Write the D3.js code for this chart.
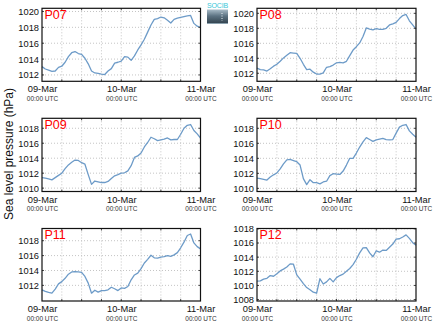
<!DOCTYPE html>
<html>
<head>
<meta charset="utf-8">
<script src="https://cdn.jsdelivr.net/npm/d3@7"></script>
<style>
  html, body { margin: 0; padding: 0; background: #fff; }
  svg { display: block; font-family: "Liberation Sans", Arial, sans-serif; }
</style>
</head>
<body>
<svg id="chart" width="434" height="327"></svg>
<script>
// Hour offsets from 09-Mar 00:00 UTC (hourly samples)
const hours = [0,1,2,3,4,5,6,7,8,9,10,11,12,13,14,15,16,17,18,19,20,21,22,23,24,
               25,26,27,28,29,30,31,32,33,34,35,36,37,38,39,40,41,42,43,44,45,46,47,48];

// Station names
const stations = ["P07", "P08", "P09", "P10", "P11", "P12"];

// Sea level pressure (hPa) per station
const p07 = [1013.05,1012.75,1012.6,1012.45,1012.5,1012.95,1013.1,1013.6,1014.3,1014.8,1014.95,1014.7,1014.6,
             1014.1,1013.4,1012.5,1012.25,1012.2,1012.1,1012.05,1012.5,1012.8,1013.5,1013.6,1013.75,
             1014.3,1014.25,1013.85,1014.4,1015.15,1015.8,1016.5,1017.4,1018.3,1019.0,1019.1,1019.3,
             1019.2,1018.9,1018.55,1019.0,1019.15,1019.25,1019.35,1019.45,1019.5,1018.5,1018.15,1018.0];
const p08 = [1012.7,1012.5,1012.45,1012.3,1012.6,1012.95,1013.2,1013.6,1014.05,1014.4,1014.75,1014.7,1014.65,
             1014.0,1013.2,1012.5,1012.55,1012.15,1011.9,1011.9,1012.05,1012.8,1012.9,1013.1,1013.4,
             1013.45,1013.4,1013.6,1014.35,1015.1,1015.55,1016.05,1016.9,1018.05,1017.9,1017.8,1017.95,
             1017.85,1017.85,1018.0,1018.45,1018.6,1018.8,1019.3,1019.7,1019.85,1019.0,1018.45,1017.9];
const p09 = [1011.4,1011.35,1011.25,1011.1,1011.4,1011.7,1012.0,1012.6,1013.1,1013.45,1013.75,1013.7,1013.4,
             1013.2,1011.8,1010.5,1010.95,1010.85,1010.75,1010.75,1010.9,1011.3,1011.65,1011.8,1012.0,
             1012.05,1012.3,1013.0,1014.1,1014.3,1014.7,1015.5,1016.1,1016.8,1016.6,1016.35,1016.45,
             1016.55,1016.7,1016.45,1016.5,1016.5,1017.2,1018.0,1018.4,1018.5,1017.7,1017.25,1016.7];
const p10 = [1011.35,1011.3,1011.2,1011.1,1011.5,1011.8,1012.05,1012.6,1013.25,1013.8,1013.85,1013.7,1013.55,
             1013.1,1011.3,1010.5,1011.15,1010.75,1010.75,1010.6,1010.85,1010.95,1011.7,1011.95,1011.9,
             1011.85,1012.3,1013.1,1014.0,1014.0,1014.7,1015.5,1016.2,1016.75,1016.5,1016.25,1016.45,
             1016.55,1016.65,1016.5,1016.45,1016.5,1017.35,1018.15,1018.4,1018.5,1017.65,1017.2,1016.8];
const p11 = [1011.4,1011.2,1011.05,1010.95,1011.5,1012.2,1012.5,1012.95,1013.5,1013.8,1013.85,1013.8,1013.75,
             1013.2,1012.3,1010.95,1011.35,1011.1,1011.3,1011.3,1011.4,1011.75,1011.55,1011.3,1011.65,
             1011.6,1011.85,1012.75,1013.4,1013.65,1014.25,1015.0,1015.5,1016.05,1015.7,1015.65,1015.8,
             1015.85,1016.0,1015.9,1016.1,1016.4,1017.05,1017.8,1018.7,1018.9,1017.7,1017.2,1016.9];
const p12 = [1010.6,1010.65,1010.9,1011.0,1011.4,1011.3,1011.65,1012.05,1012.3,1012.6,1013.05,1013.0,1011.5,
             1010.9,1010.25,1009.7,1009.4,1009.05,1008.9,1010.95,1010.2,1010.5,1011.0,1010.5,1011.1,
             1011.4,1011.6,1012.0,1012.4,1012.95,1013.7,1014.6,1015.3,1015.35,1014.6,1014.05,1014.9,
             1014.7,1015.0,1014.95,1015.4,1015.85,1016.55,1016.6,1016.85,1017.15,1016.65,1016.05,1015.7];

// Y tick labels per station
const yTicks07 = [1012, 1014, 1016, 1018, 1020];
const yTicks08 = [1012, 1014, 1016, 1018, 1020];
const yTicks09 = [1010, 1012, 1014, 1016, 1018];
const yTicks10 = [1010, 1012, 1014, 1016, 1018];
const yTicks11 = [1012, 1014, 1016, 1018];
const yTicks12 = [1008, 1010, 1012, 1014, 1016, 1018];

// Axis ranges per station (hPa)
const yDomains = [[1011.2, 1020.4], [1010.93, 1020.67], [1009.55, 1019.33],
                  [1009.58, 1019.33], [1009.9, 1019.64], [1007.8, 1018.05]];

const seriesList = [p07, p08, p09, p10, p11, p12];
const tickList = [yTicks07, yTicks08, yTicks09, yTicks10, yTicks11, yTicks12];

// Layout of the 3x2 grid of panels
const colX = [[42, 200.5], [257, 416]];
const rowY = [[8.3, 81.3], [118.3, 191.5], [228.5, 301]];

const t0 = Date.UTC(2014, 2, 9, 0, 0);
const timeOf = h => new Date(t0 + h * 3600 * 1000);
const dayTicks = [timeOf(0), timeOf(24), timeOf(48)];
const gridTimes = d3.utcHours(timeOf(0), timeOf(48.01), 6);
const fontFamily = "'Liberation Sans', Arial, sans-serif";

const svg = d3.select("#chart");

stations.forEach((name, i) => {
  const [x0, x1] = colX[i % 2];
  const [y0, y1] = rowY[Math.floor(i / 2)];
  const x = d3.scaleUtc().domain([timeOf(0), timeOf(48)]).range([x0, x1]);
  const y = d3.scaleLinear().domain(yDomains[i]).range([y1, y0]);
  const g = svg.append("g");

  // dotted grid
  g.selectAll("line.vg").data(gridTimes.slice(1, -1)).join("line")
    .attr("x1", d => x(d)).attr("x2", d => x(d))
    .attr("y1", y0).attr("y2", y1)
    .attr("stroke", "#c4c4c4").attr("stroke-width", 1).attr("stroke-dasharray", "1,2");
  g.selectAll("line.hg").data(tickList[i]).join("line")
    .attr("x1", x0).attr("x2", x1)
    .attr("y1", d => y(d)).attr("y2", d => y(d))
    .attr("stroke", "#c4c4c4").attr("stroke-width", 1).attr("stroke-dasharray", "1,2");

  // y axis labels
  const yAxis = d3.axisLeft(y).tickValues(tickList[i]).tickSize(0).tickPadding(3).tickFormat(d3.format("d"));
  const ya = g.append("g").attr("transform", `translate(${x0},0)`).call(yAxis);
  ya.select(".domain").remove();
  ya.selectAll("text").attr("font-size", 9.3).attr("fill", "#111").attr("font-family", fontFamily);

  // x axis labels: day on the first line, hour on the second
  const xAxis = d3.axisBottom(x).tickValues(dayTicks).tickSize(0)
    .tickFormat(d3.utcFormat("%d-%b"));
  const xa = g.append("g").attr("transform", `translate(0,${y1})`).call(xAxis);
  xa.select(".domain").remove();
  xa.selectAll("text").attr("dy", null).attr("y", 11.2)
    .attr("font-size", 9.3).attr("fill", "#111").attr("font-family", fontFamily);
  xa.selectAll(".tick").append("text")
    .attr("y", 19.5).attr("text-anchor", "middle").attr("font-size", 6.5).attr("fill", "#333")
    .attr("font-family", fontFamily)
    .text(d => d3.utcFormat("%H:%M UTC")(d));

  // pressure line
  const line = d3.line().x((d, k) => x(timeOf(hours[k]))).y(d => y(d));
  g.append("path").datum(seriesList[i])
    .attr("d", line).attr("fill", "none")
    .attr("stroke", "#6d9bc8").attr("stroke-width", 1.3).attr("stroke-linejoin", "round");

  // small inner ticks along frame
  const tickG = g.append("g").attr("stroke", "#444").attr("stroke-width", 1);
  gridTimes.slice(1, -1).forEach(d => {
    tickG.append("line").attr("x1", x(d)).attr("x2", x(d)).attr("y1", y0).attr("y2", y0 + 2);
    tickG.append("line").attr("x1", x(d)).attr("x2", x(d)).attr("y1", y1).attr("y2", y1 - 2);
  });
  tickList[i].forEach(d => {
    tickG.append("line").attr("x1", x1).attr("x2", x1 - 2).attr("y1", y(d)).attr("y2", y(d));
    tickG.append("line").attr("x1", x0).attr("x2", x0 + 2).attr("y1", y(d)).attr("y2", y(d));
  });

  // frame
  g.append("rect").attr("x", x0).attr("y", y0).attr("width", x1 - x0).attr("height", y1 - y0)
    .attr("fill", "none").attr("stroke", "#111").attr("stroke-width", 1.2);

  // station label
  g.append("text").attr("x", x0 + 2.5).attr("y", y0 + 10.8)
    .attr("font-size", 12.5).attr("fill", "#ff0000").text(name);
});

// shared y axis title
svg.append("text")
  .attr("transform", "translate(12.5,154) rotate(-90)")
  .attr("text-anchor", "middle").attr("font-size", 12).attr("fill", "#111")
  .text("Sea level pressure (hPa)");

// SOCIB badge
const defs = svg.append("defs");
const grad = defs.append("linearGradient").attr("id", "badge").attr("x1", 0).attr("y1", 0).attr("x2", 0).attr("y2", 1);
grad.append("stop").attr("offset", "0%").attr("stop-color", "#a9bcc8");
grad.append("stop").attr("offset", "45%").attr("stop-color", "#5c7282");
grad.append("stop").attr("offset", "100%").attr("stop-color", "#2f3f4a");
svg.append("text").attr("x", 217.5).attr("y", 8.3).attr("text-anchor", "middle")
  .attr("font-size", 7).attr("fill", "#37c6d8").attr("letter-spacing", -0.2).text("SOCIB");
svg.append("rect").attr("x", 207).attr("y", 9.5).attr("width", 21).attr("height", 14.5).attr("fill", "url(#badge)");
svg.append("line").attr("x1", 222).attr("x2", 222).attr("y1", 13).attr("y2", 21)
  .attr("stroke", "#e8f0f4").attr("stroke-width", 1).attr("stroke-dasharray", "1,1.5");
svg.append("line").attr("x1", 207).attr("x2", 228).attr("y1", 23.5).attr("y2", 23.5)
  .attr("stroke", "#8aa0ad").attr("stroke-width", 1);
</script>
</body>
</html>
